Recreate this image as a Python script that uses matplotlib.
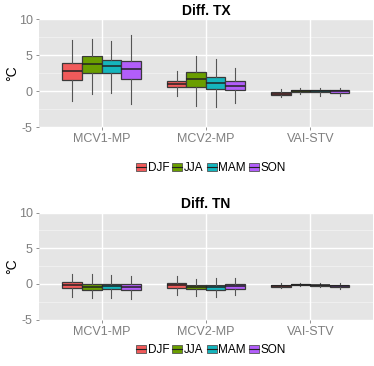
import matplotlib
matplotlib.use("Agg")
import matplotlib.pyplot as plt
from matplotlib.patches import Rectangle
from matplotlib.lines import Line2D
from matplotlib.legend_handler import HandlerBase

plt.rcParams['font.family'] = ['Liberation Sans', 'DejaVu Sans']

categories = ["MCV1-MP", "MCV2-MP", "VAI-STV"]
seasons = ["DJF", "JJA", "MAM", "SON"]
colors = ["#F05A5A", "#6A9E00", "#15B5BD", "#B25EFA"]

# TX: per season, per category -> (low whisker, q1, median, q3, high whisker)
tx_stats = {
    "DJF": [(-1.4, 1.56, 2.83, 3.9, 7.07), (-0.66, 0.57, 1.04, 1.46, 2.8), (-0.8, -0.47, -0.38, -0.19, 0.24)],
    "JJA": [(-0.33, 2.55, 3.77, 4.86, 7.3), (-2.08, 0.52, 1.7, 2.7, 4.86), (-0.42, -0.09, 0.05, 0.14, 0.38)],
    "MAM": [(-0.2, 2.5, 3.5, 4.3, 7.0), (-2.26, 0.24, 1.08, 1.93, 4.5), (-0.66, -0.19, -0.05, 0.09, 0.42)],
    "SON": [(-1.8, 1.75, 3.07, 4.15, 7.8), (-1.65, 0.14, 0.75, 1.37, 3.2), (-0.7, -0.24, 0.0, 0.14, 0.38)],
}
tn_stats = {
    "DJF": [(-1.78, -0.56, -0.14, 0.23, 1.36), (-1.6, -0.51, -0.14, 0.14, 1.12), (-0.56, -0.37, -0.28, -0.14, 0.09)],
    "JJA": [(-1.92, -0.84, -0.47, -0.05, 1.36), (-1.64, -0.65, -0.37, -0.14, 0.65), (-0.33, -0.19, -0.09, 0.0, 0.19)],
    "MAM": [(-1.92, -0.7, -0.33, 0.05, 1.2), (-1.87, -0.84, -0.47, -0.19, 0.8), (-0.47, -0.28, -0.19, -0.09, 0.14)],
    "SON": [(-2.06, -0.84, -0.47, -0.05, 1.07), (-1.6, -0.7, -0.23, 0.05, 0.8), (-0.65, -0.37, -0.28, -0.19, 0.09)],
}
y_ticks = [-5, 0, 5, 10]
titles = ["Diff. TX", "Diff. TN"]
ylabel = "°C"

fig = plt.figure(figsize=(3.74, 3.66), dpi=100)
ax1 = fig.add_axes([0.104, 0.653, 0.893, 0.294])
ax2 = fig.add_axes([0.104, 0.127, 0.893, 0.292])

width = 0.1875
offsets = [-0.28125, -0.09375, 0.09375, 0.28125]

def draw(ax, stats, title):
    ax.set_facecolor("#E5E5E5")
    for s in ax.spines.values():
        s.set_visible(False)
    ax.set_xlim(0.4, 3.6)
    ax.set_ylim(-5, 10)
    for y in [-2.5, 2.5, 7.5]:
        ax.axhline(y, color="#F2F2F2", lw=0.6, zorder=0)
    for y in y_ticks:
        ax.axhline(y, color="white", lw=1.0, zorder=0)
    for x in range(1, len(categories) + 1):
        ax.axvline(x, color="white", lw=1.0, zorder=0)
    for si, season in enumerate(seasons):
        bxs = []
        pos = []
        for ci, st in enumerate(stats[season]):
            lo, q1, med, q3, hi = st
            bxs.append(dict(whislo=lo, q1=q1, med=med, q3=q3, whishi=hi, fliers=[], label=""))
            pos.append(ci + 1 + offsets[si])
        ax.bxp(bxs, positions=pos, widths=width, patch_artist=True, showcaps=False,
               boxprops=dict(facecolor=colors[si], edgecolor="#3A3A3A", lw=0.9),
               medianprops=dict(color="#222222", lw=1.1),
               whiskerprops=dict(color="#555555", lw=0.8), manage_ticks=False, zorder=2)
    ax.set_xticks(range(1, len(categories) + 1))
    ax.set_xticklabels(categories)
    ax.set_yticks(y_ticks)
    ax.set_yticklabels([str(t) for t in y_ticks])
    ax.tick_params(axis="both", colors="#7F7F7F", labelcolor="#7F7F7F", labelsize=9,
                   length=2.5, width=0.6, pad=2)
    ax.set_ylabel(ylabel, fontsize=10)
    ax.yaxis.set_label_coords(-0.058, 0.5)
    ax.set_title(title, fontsize=10, fontweight="bold", pad=3)

draw(ax1, tx_stats, titles[0])
draw(ax2, tn_stats, titles[1])

class BoxHandler(HandlerBase):
    def create_artists(self, legend, orig_handle, xdescent, ydescent, width, height, fontsize, trans):
        w = width
        h = height
        x0 = -xdescent
        y0 = -ydescent
        r = Rectangle((x0, y0), w, h, facecolor=orig_handle.get_facecolor(),
                      edgecolor="#555555", lw=0.6, transform=trans)
        l = Line2D([x0, x0 + w], [y0 + h / 2, y0 + h / 2], color="#222222", lw=0.8, transform=trans)
        return [r, l]

handles = [Rectangle((0, 0), 1, 1, facecolor=c) for c in colors]
for yc in [1 - 168 / 366, 1 - 350 / 366]:
    fig.legend(handles, seasons, loc="center", bbox_to_anchor=(0.564, yc), ncol=4,
               frameon=False, fontsize=8.5, handler_map={Rectangle: BoxHandler()},
               handlelength=0.85, handleheight=0.7, handletextpad=0.15, columnspacing=0.25,
               borderpad=0)

fig.savefig("out.png", dpi=100)
